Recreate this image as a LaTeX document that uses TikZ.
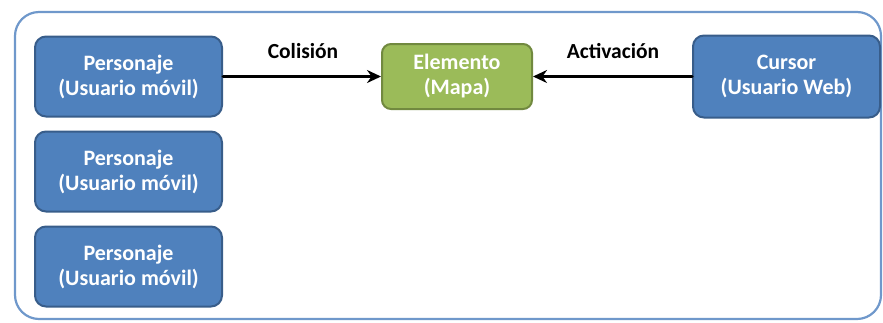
\documentclass[tikz,border=0pt]{standalone}
\usepackage{fontspec}
\setmainfont{Carlito}
\usetikzlibrary{arrows.meta,positioning}
\definecolor{boxblue}{HTML}{4F81BD}
\definecolor{boxblueline}{HTML}{385D8A}
\definecolor{boxgreen}{HTML}{9BBB59}
\definecolor{boxgreenline}{HTML}{71893F}
\definecolor{frameblue}{HTML}{6F98CB}

\tikzset{
  actor/.style={draw=boxblueline,fill=boxblue,line width=2pt,rounded corners=11pt,
    minimum width=187pt,minimum height=80pt,text=white,align=center,
    font=\fontsize{22}{25}\selectfont\bfseries},
  mapel/.style={actor,draw=boxgreenline,fill=boxgreen,minimum width=150pt,minimum height=65pt,
    rounded corners=9pt},
  link/.style={->,line width=3pt,black},
  linklabel/.style={font=\fontsize{21.5}{24}\selectfont\bfseries,text=black}
}

\begin{document}
\begin{tikzpicture}[x=1pt,y=-1pt,>={Stealth[length=14pt,width=13pt]},line cap=round]
\useasboundingbox (0,0) rectangle (883,322);
% outer frame
\draw[frameblue,line width=2.2pt,rounded corners=24pt] (15,12) rectangle (881,319);
% players on the left
\node[actor] (p1) at (128.5,76.5) {Personaje\\(Usuario móvil)};
\node[actor,below=13pt of p1] (p2) {Personaje\\(Usuario móvil)};
\node[actor,below=13pt of p2] (p3) {Personaje\\(Usuario móvil)};
% map element and web cursor
\node[mapel] (elem) at (457,76.5) {Elemento\\(Mapa)};
\node[actor,minimum height=82pt] (cursor) at (786.5,76.5) {Cursor\\(Usuario Web)};
% connectors
\draw[link] (p1.east) -- (elem.west);
\draw[link] (cursor.west) -- (elem.east);
\node[linklabel] (col) at (303,51) {Colisión};
\node[linklabel] (act) at (613,51) {Activación};
\end{tikzpicture}
\end{document}
